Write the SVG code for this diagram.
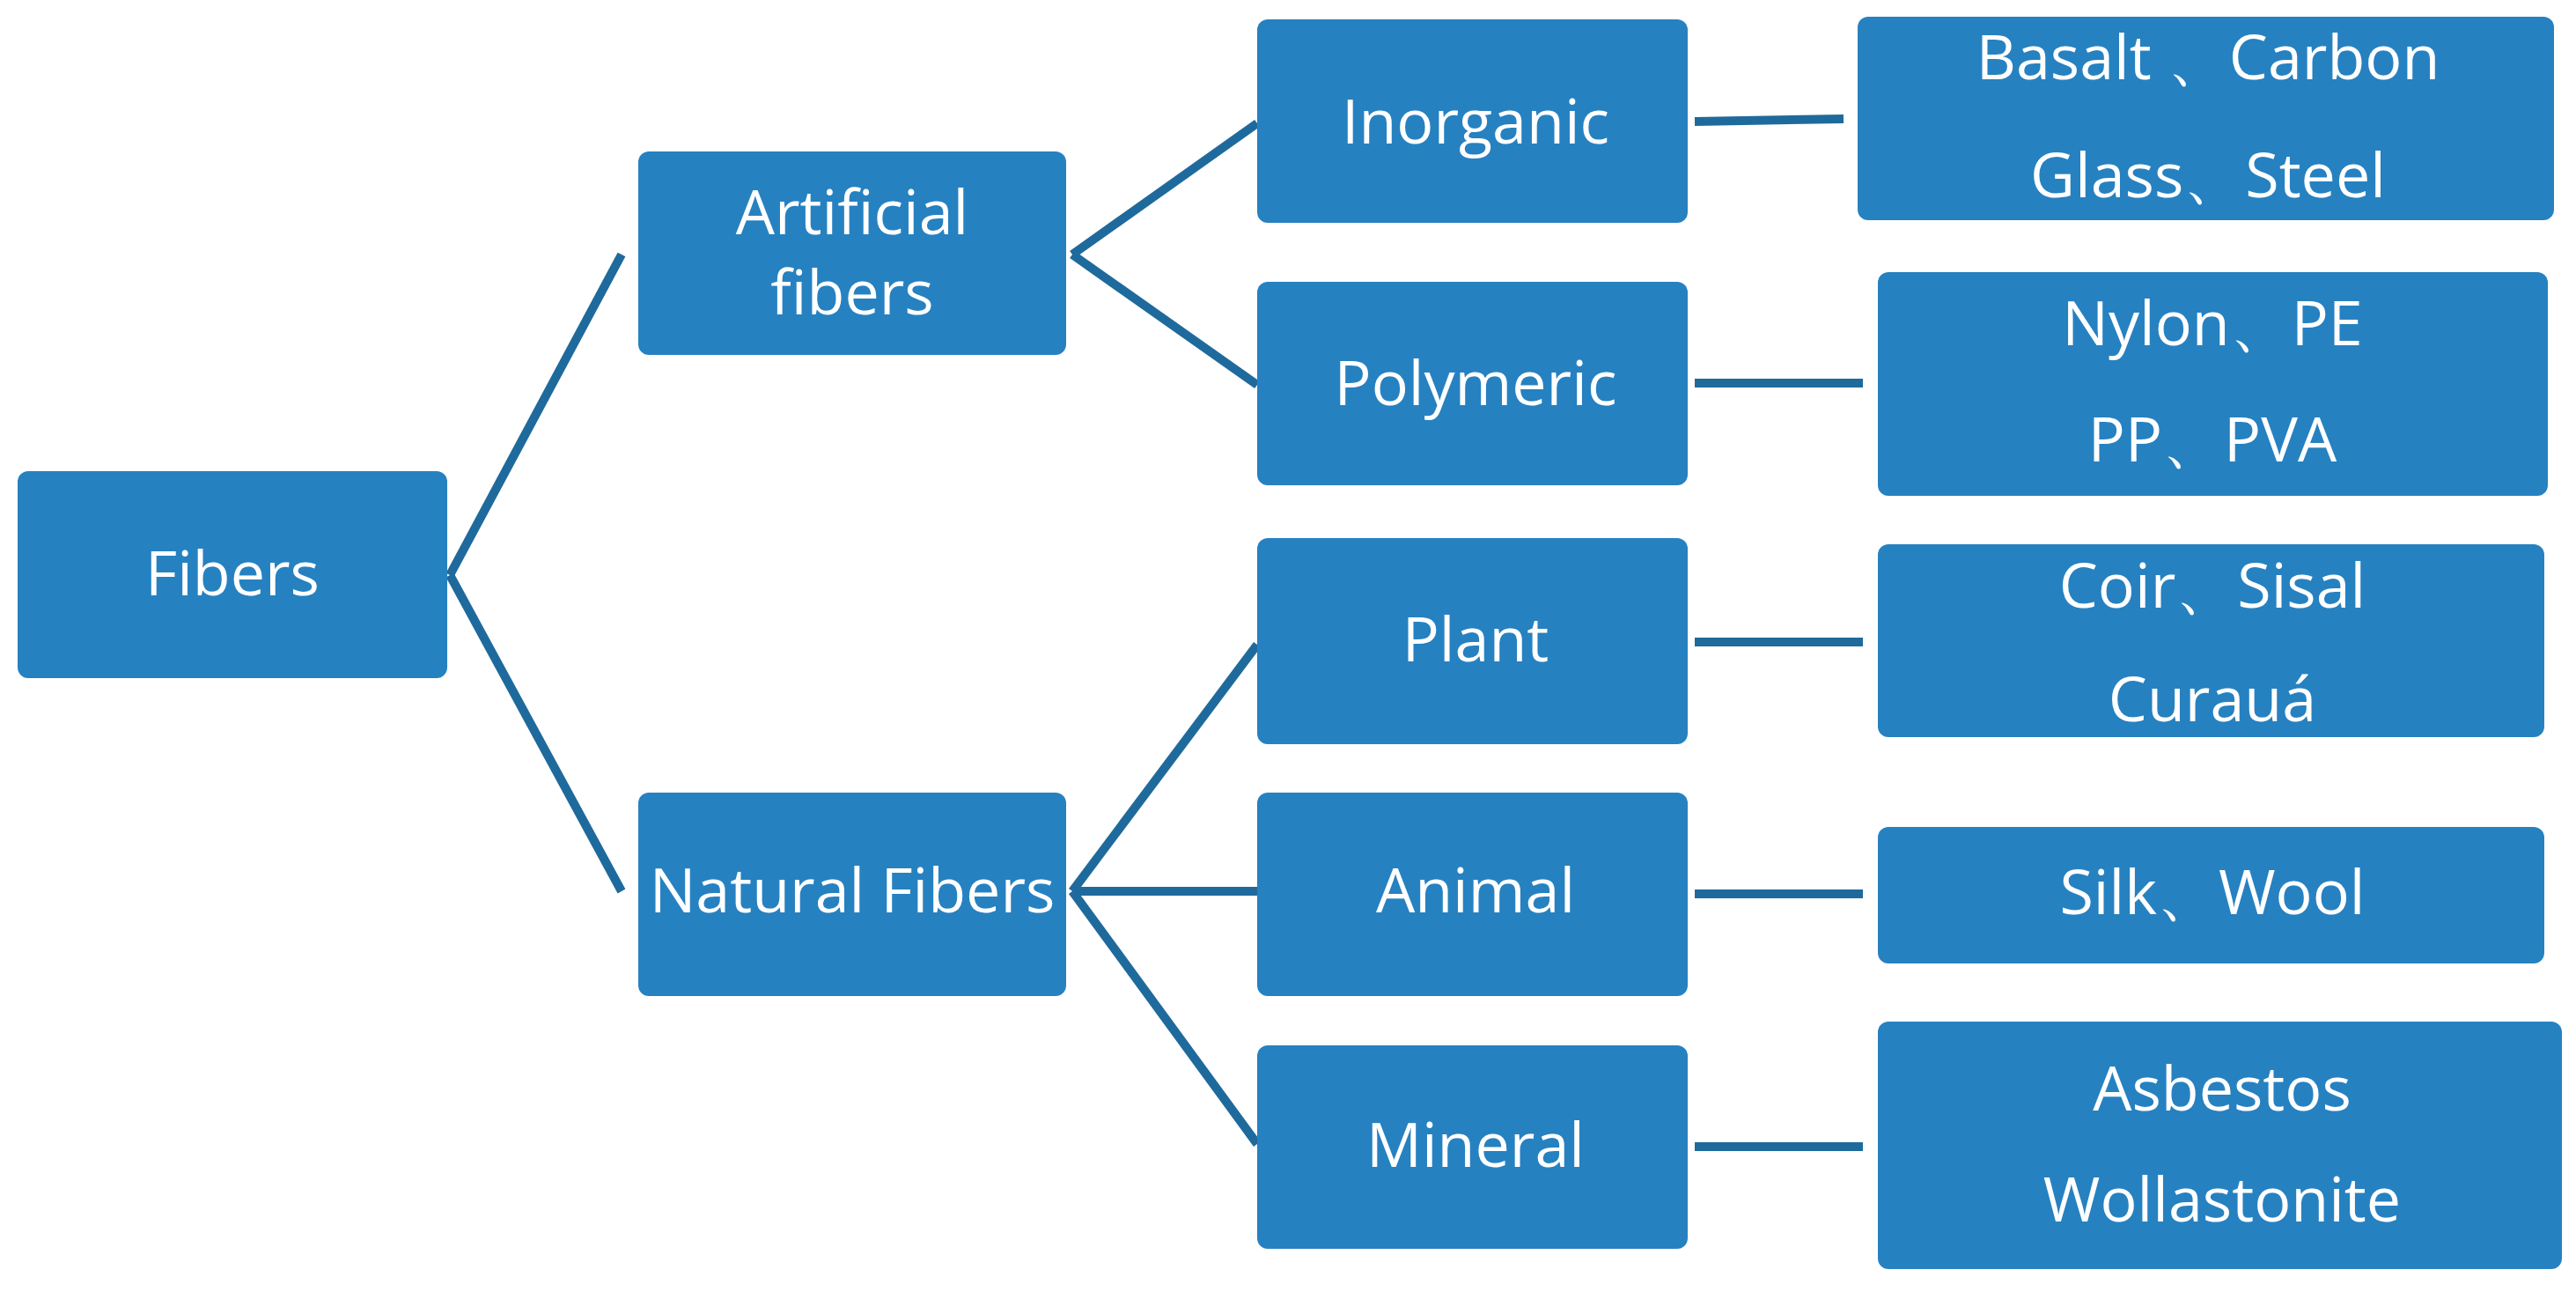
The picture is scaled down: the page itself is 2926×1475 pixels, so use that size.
<svg xmlns="http://www.w3.org/2000/svg" width="2926" height="1475" viewBox="0 0 2926 1475">
<style>
rect{fill:#2681C1}
text{font-family:"Open Sans","Liberation Sans",sans-serif;font-size:70px;fill:#fff;text-anchor:middle}
#connectors line{stroke:#1F6A9C;stroke-width:10;stroke-linecap:butt}
</style>
<rect width="2926" height="1475" style="fill:#fff"/>
<g id="connectors">
<line x1="511" y1="653" x2="706" y2="289"/>
<line x1="511" y1="653" x2="706" y2="1012"/>
<line x1="1218" y1="289" x2="1428" y2="140"/>
<line x1="1218" y1="289" x2="1428" y2="437"/>
<line x1="1218" y1="1012" x2="1428" y2="732"/>
<line x1="1218" y1="1012" x2="1428" y2="1012"/>
<line x1="1218" y1="1012" x2="1428" y2="1299"/>
<line x1="1925" y1="138" x2="2094" y2="135"/>
<line x1="1925" y1="435" x2="2116" y2="435"/>
<line x1="1925" y1="729" x2="2116" y2="729"/>
<line x1="1925" y1="1015" x2="2116" y2="1015"/>
<line x1="1925" y1="1302" x2="2116" y2="1302"/>
</g>
<g id="fibers"><rect x="20" y="535" width="488" height="235" rx="12"/><text x="264" y="676">Fibers</text></g>
<g id="artificial"><rect x="725" y="172" width="486" height="231" rx="12"/><text x="968" y="266">Artificial</text><text x="968" y="357">fibers</text></g>
<g id="natural"><rect x="725" y="900" width="486" height="231" rx="12"/><text x="968" y="1036">Natural Fibers</text></g>
<g id="inorganic"><rect x="1428" y="22" width="489" height="231" rx="12"/><text x="1676" y="163">Inorganic</text></g>
<g id="polymeric"><rect x="1428" y="320" width="489" height="231" rx="12"/><text x="1676" y="460">Polymeric</text></g>
<g id="plant"><rect x="1428" y="611" width="489" height="234" rx="12"/><text x="1676" y="751">Plant</text></g>
<g id="animal"><rect x="1428" y="900" width="489" height="231" rx="12"/><text x="1676" y="1036">Animal</text></g>
<g id="mineral"><rect x="1428" y="1187" width="489" height="231" rx="12"/><text x="1676" y="1325">Mineral</text></g>
<g id="inorganic-ex"><rect x="2110" y="19" width="791" height="231" rx="12"/><text x="2508" y="90">Basalt 、Carbon</text><text x="2508" y="224">Glass、Steel</text></g>
<g id="polymeric-ex"><rect x="2133" y="309" width="761" height="254" rx="12"/><text x="2513" y="392">Nylon、PE</text><text x="2513" y="524">PP、PVA</text></g>
<g id="plant-ex"><rect x="2133" y="618" width="757" height="219" rx="12"/><text x="2513" y="690">Coir、Sisal</text><text x="2513" y="819">Curauá</text></g>
<g id="animal-ex"><rect x="2133" y="939" width="757" height="155" rx="12"/><text x="2513" y="1038">Silk、Wool</text></g>
<g id="mineral-ex"><rect x="2133" y="1160" width="777" height="281" rx="12"/><text x="2524" y="1261">Asbestos</text><text x="2524" y="1387">Wollastonite</text></g>
</svg>
